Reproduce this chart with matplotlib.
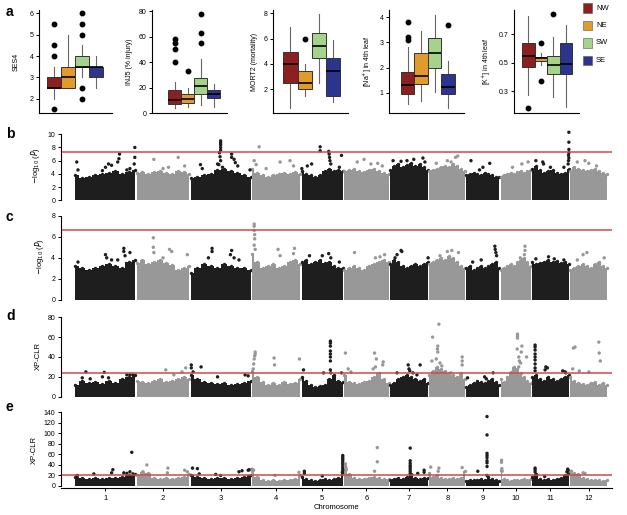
import numpy as np
import matplotlib.pyplot as plt

plt.rcParams['font.family'] = ['Liberation Sans', 'DejaVu Sans']

W, H = 627, 515

# ---------------- panel a: box plots per region ----------------
regions = ['NW', 'NE', 'SW', 'SE']
region_colors = ['#8c1f1f', '#e39a2d', '#a6d38c', '#2b358e']

# each box: [low whisker, q1, median, q3, high whisker]
ses4_box = [[2.0, 2.5, 2.5, 3.0, 3.5], [2.5, 2.5, 3.0, 3.5, 5.0],
            [3.0, 3.5, 3.5, 4.0, 4.5], [2.5, 3.0, 3.5, 3.5, 4.0]]
ses4_out = [[5.5, 4.5, 4.0, 1.5], [], [6.0, 5.5, 5.0, 2.5, 2.0], []]
inj5_box = [[4, 7, 10.4, 18, 24.7], [5.2, 7.8, 10.9, 15.3, 20],
            [6.5, 15.1, 21.6, 27.8, 42.5], [5.2, 12.2, 14.8, 18, 22.7]]
inj5_out = [[40, 50, 55, 58], [33], [55, 62.5, 77.6], []]
mort2_box = [[0.5, 2.47, 3.97, 4.97, 6.94], [1.5, 2.0, 2.47, 3.47, 3.97],
             [2.47, 4.44, 5.44, 6.47, 7.94], [1.0, 1.47, 3.47, 4.44, 5.9]]
mort2_out = [[], [5.97], [], []]
na_box = [[0.55, 0.95, 1.32, 1.81, 2.83], [0.67, 1.33, 1.68, 2.57, 3.47],
          [1.04, 1.97, 2.57, 3.17, 4.1], [0.4, 0.93, 1.21, 1.75, 2.28]]
na_out = [[3.1, 3.2, 3.8], [], [], [3.7]]
k_box = [[0.27, 0.47, 0.55, 0.64, 0.83], [0.48, 0.51, 0.53, 0.54, 0.57],
         [0.255, 0.42, 0.485, 0.55, 0.68], [0.19, 0.42, 0.49, 0.64, 0.766]]
k_out = [[0.18], [0.64, 0.37], [0.84], []]

# ---------------- panels b-e: genome scans ----------------
chrom_names = [str(i) for i in range(1, 13)]
chrom_len = [43, 38, 43, 35, 30, 32, 28, 26, 24, 22, 27, 27]

# top of the dense point mass along each chromosome
b_env = [[3.8, 3.4, 3.6, 3.8, 4.0, 4.2, 4.4, 4.0, 4.3, 4.6],
         [4.2, 4.3, 4.0, 4.3, 4.4, 4.2, 4.0, 4.5, 4.3, 4.0],
         [3.4, 3.6, 3.8, 4.0, 4.6, 4.8, 4.4, 4.2, 3.8, 3.5],
         [4.8, 4.2, 3.8, 3.6, 3.8, 4.0, 4.2, 4.0, 4.3, 4.0],
         [4.5, 4.0, 3.8, 3.6, 3.8, 4.4, 4.8, 4.4, 4.6, 4.5],
         [4.5, 4.6, 4.8, 4.5, 4.3, 4.6, 4.8, 4.4, 4.2, 4.0],
         [4.6, 5.2, 5.5, 5.0, 5.4, 5.6, 5.2, 5.5, 5.0, 4.6],
         [4.4, 4.6, 4.8, 5.0, 5.2, 5.0, 5.5, 5.2, 4.8, 4.5],
         [3.8, 4.0, 4.2, 4.0, 3.8, 4.2, 4.0, 3.8, 3.6, 3.5],
         [3.6, 3.8, 4.0, 4.2, 4.0, 4.3, 4.4, 4.2, 4.5, 4.6],
         [4.8, 5.2, 4.6, 4.2, 4.4, 4.6, 4.2, 4.0, 4.2, 4.8],
         [4.5, 5.0, 4.8, 4.6, 4.4, 4.6, 4.8, 4.4, 4.2, 4.0]]
# (chromosome, relative position, value)
b_pts = [(1, 0.03, 5.8), (1, 0.05, 4.6), (1, 0.45, 4.5), (1, 0.5, 5.0), (1, 0.55, 5.5),
         (1, 0.6, 5.3), (1, 0.73, 7.0), (1, 0.72, 6.3), (1, 0.7, 5.8), (1, 0.98, 8.0),
         (1, 0.98, 6.5), (1, 0.97, 5.5), (1, 0.9, 4.8), (1, 0.85, 4.6),
         (2, 0.33, 6.2), (2, 0.78, 6.5), (2, 0.6, 5.0), (2, 0.5, 4.8), (2, 0.9, 5.2),
         (3, 0.17, 5.4), (3, 0.2, 4.8), (3, 0.45, 5.5), (3, 0.5, 9.0), (3, 0.5, 8.7),
         (3, 0.5, 8.4), (3, 0.5, 8.0), (3, 0.5, 7.6), (3, 0.48, 7.2), (3, 0.49, 6.6),
         (3, 0.5, 6.0), (3, 0.47, 5.4), (3, 0.53, 5.0), (3, 0.68, 7.0), (3, 0.68, 6.5),
         (3, 0.72, 6.2), (3, 0.74, 5.7), (3, 0.78, 5.2), (3, 0.98, 4.6),
         (4, 0.06, 6.0), (4, 0.16, 8.1), (4, 0.1, 5.4), (4, 0.3, 4.8), (4, 0.58, 5.8),
         (4, 0.78, 6.0), (4, 0.85, 5.2),
         (5, 0.02, 4.8), (5, 0.15, 5.2), (5, 0.25, 5.5), (5, 0.45, 8.1), (5, 0.45, 7.5),
         (5, 0.65, 7.4), (5, 0.66, 7.0), (5, 0.67, 6.5), (5, 0.68, 6.0), (5, 0.7, 5.5),
         (5, 0.95, 6.8), (5, 0.9, 5.0),
         (6, 0.3, 5.8), (6, 0.45, 6.2), (6, 0.6, 5.5), (6, 0.75, 5.6), (6, 0.85, 5.2),
         (7, 0.1, 6.0), (7, 0.3, 5.9), (7, 0.45, 6.0), (7, 0.62, 6.2), (7, 0.85, 6.4),
         (7, 0.9, 5.8),
         (8, 0.2, 5.6), (8, 0.5, 6.0), (8, 0.72, 6.5), (8, 0.78, 6.7), (8, 0.6, 5.8),
         (9, 0.15, 6.0), (9, 0.5, 5.0), (9, 0.7, 5.6), (9, 0.4, 4.6),
         (10, 0.4, 5.0), (10, 0.7, 5.5), (10, 0.9, 5.8),
         (11, 0.12, 6.0), (11, 0.3, 5.8), (11, 0.32, 5.5), (11, 0.5, 5.0), (11, 0.85, 5.0),
         (11, 0.98, 10.3), (11, 0.98, 8.8), (11, 0.98, 7.7), (11, 0.98, 7.2),
         (11, 0.97, 6.8), (11, 0.98, 6.4), (11, 0.97, 6.0), (11, 0.96, 5.5),
         (12, 0.2, 5.8), (12, 0.4, 6.0), (12, 0.5, 5.6), (12, 0.7, 5.2)]

c_env = [[3.2, 3.0, 2.8, 3.0, 3.2, 3.4, 3.2, 3.0, 3.6, 3.8],
         [3.5, 3.8, 3.4, 3.6, 3.8, 3.5, 3.3, 2.8, 3.0, 3.2],
         [2.6, 3.0, 3.4, 3.2, 3.0, 3.4, 3.2, 3.0, 3.0, 2.8],
         [4.4, 3.6, 3.0, 3.2, 3.4, 3.0, 3.2, 3.6, 3.8, 3.4],
         [3.6, 3.8, 3.4, 3.6, 3.8, 3.5, 3.6, 3.2, 3.0, 3.0],
         [2.8, 3.0, 3.2, 3.0, 2.8, 3.2, 3.4, 3.6, 3.8, 3.6],
         [3.4, 3.8, 3.6, 3.2, 3.0, 3.2, 3.4, 3.2, 3.4, 3.6],
         [3.4, 3.6, 3.8, 4.0, 3.8, 4.2, 4.0, 3.6, 3.2, 3.0],
         [3.0, 3.2, 2.8, 3.0, 3.2, 3.0, 3.2, 3.4, 3.6, 3.0],
         [2.8, 3.0, 3.2, 3.4, 3.2, 3.6, 3.8, 4.0, 3.6, 3.2],
         [3.6, 3.4, 3.5, 3.6, 3.8, 3.6, 3.7, 3.5, 3.6, 3.4],
         [2.8, 3.0, 3.2, 3.4, 3.2, 3.0, 3.4, 3.6, 3.2, 3.0]]
c_pts = [(1, 0.05, 3.6), (1, 0.5, 4.3), (1, 0.52, 4.0), (1, 0.6, 3.8), (1, 0.8, 4.9),
         (1, 0.8, 4.6), (1, 0.82, 4.2), (1, 0.9, 4.5), (1, 0.7, 3.8),
         (2, 0.32, 5.9), (2, 0.32, 5.0), (2, 0.33, 4.5), (2, 0.62, 4.8), (2, 0.66, 4.6),
         (2, 0.95, 4.3), (2, 0.5, 4.0),
         (3, 0.36, 4.9), (3, 0.36, 4.6), (3, 0.3, 4.0), (3, 0.68, 4.7), (3, 0.66, 4.3),
         (3, 0.72, 4.0), (3, 0.8, 3.8),
         (4, 0.06, 7.2), (4, 0.06, 7.0), (4, 0.06, 6.6), (4, 0.07, 6.2), (4, 0.07, 5.8),
         (4, 0.06, 5.2), (4, 0.08, 4.8), (4, 0.54, 4.8), (4, 0.58, 4.2), (4, 0.87, 4.9),
         (4, 0.85, 4.4),
         (5, 0.2, 4.2), (5, 0.5, 4.2), (5, 0.65, 4.4), (5, 0.7, 4.0), (5, 0.9, 3.6),
         (6, 0.24, 4.5), (6, 0.7, 4.0), (6, 0.8, 4.1), (6, 0.9, 4.3),
         (7, 0.3, 4.7), (7, 0.32, 4.6), (7, 0.2, 4.3), (7, 0.15, 4.0), (7, 0.98, 4.0),
         (8, 0.5, 4.6), (8, 0.62, 4.7), (8, 0.8, 4.5), (8, 0.3, 4.2),
         (9, 0.2, 3.6), (9, 0.45, 3.8), (9, 0.85, 5.1), (9, 0.86, 4.8), (9, 0.88, 4.5),
         (9, 0.9, 4.2),
         (10, 0.8, 5.1), (10, 0.8, 4.7), (10, 0.78, 4.3), (10, 0.65, 4.0),
         (11, 0.12, 3.9), (11, 0.45, 4.1), (11, 0.6, 3.9), (11, 0.85, 3.8),
         (12, 0.35, 4.3), (12, 0.45, 4.5), (12, 0.9, 4.0), (12, 0.2, 3.8)]

d_env = [[12, 16, 14, 15, 13, 16, 14, 18, 20, 22],
         [16, 15, 14, 16, 18, 15, 16, 18, 20, 18],
         [22, 18, 15, 14, 13, 14, 12, 13, 14, 16],
         [26, 20, 15, 12, 14, 12, 15, 13, 14, 18],
         [20, 16, 12, 10, 11, 12, 18, 22, 16, 15],
         [22, 15, 14, 13, 15, 16, 20, 24, 18, 14],
         [12, 14, 18, 20, 22, 20, 18, 16, 18, 14],
         [22, 26, 30, 28, 26, 24, 22, 20, 24, 18],
         [10, 12, 14, 16, 15, 14, 16, 18, 15, 12],
         [18, 15, 20, 25, 30, 28, 24, 20, 16, 14],
         [20, 22, 18, 16, 20, 18, 16, 18, 20, 22],
         [20, 16, 14, 13, 12, 14, 15, 12, 14, 12]]
d_pts = [(1, 0.12, 19), (1, 0.18, 25), (1, 0.25, 18), (1, 0.45, 20), (1, 0.48, 24.5),
         (1, 0.55, 19), (1, 0.85, 22), (1, 0.9, 22), (1, 0.95, 22),
         (2, 0.55, 27), (2, 0.92, 29), (2, 0.85, 25), (2, 0.7, 22),
         (3, 0.02, 32), (3, 0.02, 29), (3, 0.18, 30), (3, 0.05, 25), (3, 0.45, 20),
         (3, 0.9, 22), (3, 0.95, 21),
         (4, 0.08, 45), (4, 0.08, 43), (4, 0.07, 41), (4, 0.06, 38), (4, 0.05, 33),
         (4, 0.04, 28), (4, 0.46, 39), (4, 0.47, 32), (4, 0.97, 38),
         (5, 0.06, 27), (5, 0.69, 56), (5, 0.69, 54), (5, 0.69, 51), (5, 0.69, 46),
         (5, 0.69, 43), (5, 0.69, 40), (5, 0.69, 36), (5, 0.69, 27), (5, 0.7, 24),
         (5, 0.53, 24), (5, 0.95, 24),
         (6, 0.04, 44), (6, 0.1, 28), (6, 0.16, 25), (6, 0.68, 44), (6, 0.72, 38),
         (6, 0.87, 35), (6, 0.86, 32), (6, 0.7, 30), (6, 0.65, 28),
         (7, 0.2, 24), (7, 0.48, 32), (7, 0.5, 28), (7, 0.52, 26), (7, 0.78, 32),
         (7, 0.7, 22), (7, 0.6, 24),
         (8, 0.1, 60), (8, 0.27, 73), (8, 0.24, 51), (8, 0.23, 48), (8, 0.24, 45),
         (8, 0.2, 38), (8, 0.08, 36), (8, 0.3, 34), (8, 0.35, 31), (8, 0.9, 40),
         (8, 0.9, 36), (8, 0.9, 32), (8, 0.6, 24),
         (9, 0.05, 19), (9, 0.55, 20), (9, 0.8, 24), (9, 0.6, 18),
         (10, 0.56, 63), (10, 0.56, 61), (10, 0.56, 59), (10, 0.55, 48), (10, 0.7, 51),
         (10, 0.68, 45), (10, 0.6, 40), (10, 0.62, 36), (10, 0.66, 34), (10, 0.6, 30),
         (10, 0.85, 40),
         (11, 0.1, 52), (11, 0.1, 50), (11, 0.1, 47), (11, 0.1, 43), (11, 0.1, 40),
         (11, 0.1, 37), (11, 0.1, 33), (11, 0.1, 29), (11, 0.1, 26), (11, 0.38, 30),
         (11, 0.42, 29), (11, 0.36, 27), (11, 0.82, 26), (11, 0.88, 25), (11, 0.9, 24),
         (12, 0.1, 49), (12, 0.14, 50), (12, 0.08, 28), (12, 0.25, 26), (12, 0.5, 25),
         (12, 0.76, 55), (12, 0.77, 44), (12, 0.8, 36)]

e_env = [[18, 15, 14, 16, 14, 15, 16, 18, 20, 22],
         [20, 26, 25, 16, 14, 15, 14, 16, 18, 22],
         [20, 18, 15, 14, 16, 15, 14, 16, 18, 20],
         [28, 18, 12, 10, 12, 10, 11, 12, 14, 20],
         [18, 14, 12, 10, 12, 13, 12, 14, 15, 25],
         [30, 22, 15, 13, 14, 16, 18, 16, 14, 14],
         [12, 14, 15, 14, 18, 22, 16, 14, 15, 16],
         [25, 18, 20, 16, 14, 13, 15, 14, 16, 28],
         [10, 12, 11, 12, 14, 12, 18, 14, 12, 10],
         [30, 14, 12, 10, 12, 11, 12, 13, 12, 14],
         [18, 22, 14, 12, 13, 12, 14, 16, 20, 24],
         [28, 24, 22, 15, 13, 12, 11, 12, 10, 12]]
e_pts = [(1, 0.04, 20), (1, 0.31, 23), (1, 0.62, 31), (1, 0.6, 25), (1, 0.8, 25),
         (1, 0.85, 24), (1, 0.9, 27), (1, 0.93, 64), (1, 0.95, 23),
         (2, 0.2, 40), (2, 0.13, 27), (2, 0.59, 34), (2, 0.58, 25), (2, 0.9, 30),
         (2, 0.95, 27),
         (3, 0.04, 34), (3, 0.12, 33), (3, 0.15, 23), (3, 0.42, 22), (3, 0.5, 20),
         (3, 0.8, 27), (3, 0.85, 29), (3, 0.95, 30), (3, 0.97, 31),
         (4, 0.02, 32), (4, 0.05, 30), (4, 0.48, 20), (4, 0.96, 26),
         (5, 0.08, 28), (5, 0.08, 24), (5, 0.5, 19), (5, 0.98, 58), (5, 0.98, 55),
         (5, 0.98, 52), (5, 0.98, 49), (5, 0.98, 45), (5, 0.98, 42), (5, 0.98, 38),
         (5, 0.98, 34), (5, 0.98, 30), (5, 0.97, 26),
         (6, 0.04, 42), (6, 0.04, 38), (6, 0.05, 35), (6, 0.06, 31), (6, 0.74, 73),
         (6, 0.74, 46), (6, 0.68, 28),
         (7, 0.53, 72), (7, 0.53, 48), (7, 0.53, 43), (7, 0.53, 39), (7, 0.53, 36),
         (7, 0.53, 32), (7, 0.53, 28), (7, 0.53, 24), (7, 0.72, 24), (7, 0.88, 30),
         (7, 0.88, 26),
         (8, 0.05, 36), (8, 0.27, 34), (8, 0.9, 35), (8, 0.25, 28),
         (9, 0.35, 28), (9, 0.62, 132), (9, 0.62, 97), (9, 0.62, 62), (9, 0.62, 58),
         (9, 0.62, 54), (9, 0.62, 48), (9, 0.62, 44), (9, 0.62, 37), (9, 0.62, 20),
         (10, 0.05, 49), (10, 0.05, 45), (10, 0.06, 33), (10, 0.07, 28),
         (11, 0.1, 34), (11, 0.1, 31), (11, 0.1, 27), (11, 0.12, 22), (11, 0.35, 18),
         (11, 0.95, 32), (11, 0.96, 30), (11, 0.93, 27),
         (12, 0.05, 28), (12, 0.35, 25), (12, 0.4, 24)]

thresholds = [7.3, 6.6, 23.6, 20]

BLACK = '#1e1e1e'
GRAY = '#989898'
RED = '#cf4a4a'


def rect(left, top, right, bottom):
    return [left / W, 1 - bottom / H, (right - left) / W, (bottom - top) / H]


def style_axis(ax, fs=5):
    for s in ['top', 'right']:
        ax.spines[s].set_visible(False)
    for s in ['left', 'bottom']:
        ax.spines[s].set_linewidth(0.8)
    ax.tick_params(axis='y', length=2.5, width=0.7, labelsize=fs, pad=1.5)


def box_panel(ax, boxes, outs, ylim, xlim, yticks, label, pad=4):
    stats = []
    for b, o in zip(boxes, outs):
        stats.append(dict(whislo=b[0], q1=b[1], med=b[2], q3=b[3], whishi=b[4], fliers=o))
    bp = ax.bxp(stats, positions=[1, 2, 3, 4], widths=1.0, patch_artist=True,
                showcaps=False,
                boxprops=dict(edgecolor='#333333', linewidth=0.7),
                medianprops=dict(color='black', linewidth=1.2),
                whiskerprops=dict(color='#666666', linewidth=0.8),
                flierprops=dict(marker='o', markerfacecolor='black', markeredgecolor='black',
                                markersize=3.2))
    for patch, col in zip(bp['boxes'], region_colors):
        patch.set_facecolor(col)
    for w in bp['whiskers']:
        w.set_zorder(0.5)
    ax.set_ylim(*ylim)
    ax.set_xlim(*xlim)
    ax.set_yticks(yticks)
    ax.set_xticks([])
    style_axis(ax)
    ax.set_ylabel(label, fontsize=5, labelpad=pad)


def manhattan(ax, env, pts, thr, ylim, yticks, ylabel):
    offsets = np.concatenate([[0], np.cumsum(chrom_len)[:-1]])
    for i in range(12):
        col = BLACK if i % 2 == 0 else GRAY
        h = np.array(env[i], dtype=float)
        xs = offsets[i] + np.linspace(0.4, chrom_len[i] - 0.4, len(h))
        ax.fill_between(xs, 0, h, step='mid', color=col, lw=0)
        ax.scatter(xs, h, s=6, color=col, lw=0)
    px = [offsets[c - 1] + r * chrom_len[c - 1] for c, r, v in pts]
    py = [v for c, r, v in pts]
    pc = [BLACK if (c - 1) % 2 == 0 else GRAY for c, r, v in pts]
    ax.scatter(px, py, s=6, c=pc, lw=0, clip_on=False)
    ax.axhline(thr, color=RED, lw=1.1)
    ax.set_xlim(-10.0, 377.8)
    ax.set_ylim(*ylim)
    ax.set_yticks(yticks)
    style_axis(ax)
    ax.spines['left'].set_bounds(yticks[0], yticks[-1])
    ax.set_ylabel(ylabel, fontsize=5.5, labelpad=4)
    return offsets


fig = plt.figure(figsize=(W / 100, H / 100), dpi=100)

# panel a
ax1 = fig.add_axes(rect(39.3, 10, 112, 113.3))
box_panel(ax1, ses4_box, ses4_out, (1.31, 6.16), (-0.08, 5.17), [2, 3, 4, 5, 6], 'SES4', pad=7)
ax2 = fig.add_axes(rect(152, 10, 227, 113.3))
box_panel(ax2, inj5_box, inj5_out, (0, 80.8), (-0.76, 5.04), [0, 20, 40, 60, 80], 'INJ5 (% injury)')
ax3 = fig.add_axes(rect(273, 10, 348, 113.3))
box_panel(ax3, mort2_box, mort2_out, (0.1, 8.26), (-0.23, 5.06), [2, 4, 6, 8], 'MORT2 (mortality)')
ax4 = fig.add_axes(rect(389, 10, 464, 113.3))
box_panel(ax4, na_box, na_out, (0.18, 4.29), (-0.39, 5.17), [1, 2, 3, 4], '[Na$^{+}$] in 4th leaf')
ax5 = fig.add_axes(rect(514, 10, 579, 113.3))
box_panel(ax5, k_box, k_out, (0.143, 0.871), (-0.14, 5.06), [0.3, 0.5, 0.7], '[K$^{+}$] in 4th leaf')

# legend
for i, (name, col) in enumerate(zip(regions, region_colors)):
    y = 8 + i * 17.5
    fig.patches.append(plt.Rectangle((583 / W, 1 - (y + 4.5) / H), 9 / W, 9 / H,
                                     transform=fig.transFigure, facecolor=col,
                                     edgecolor='#555555', linewidth=0.4))
    fig.text(596 / W, 1 - y / H, name, fontsize=5.5, va='center', ha='left')

# panels b-e
axb = fig.add_axes(rect(60.7, 130.3, 612, 200.3))
manhattan(axb, b_env, b_pts, thresholds[0], (0, 10.6), [0, 2, 4, 6, 8, 10],
          r'$-$log$_{10}$ ($P$)')
axb.spines['bottom'].set_visible(False)
axb.set_xticks([])

axc = fig.add_axes(rect(60.7, 212.5, 612, 300))
manhattan(axc, c_env, c_pts, thresholds[1], (0, 8.3), [0, 2, 4, 6, 8],
          r'$-$log$_{10}$ ($P$)')
axc.spines['bottom'].set_visible(False)
axc.set_xticks([])

axd = fig.add_axes(rect(60.7, 315.3, 612, 396.7))
manhattan(axd, d_env, d_pts, thresholds[2], (0, 82), [0, 20, 40, 60, 80], 'XP-CLR')
axd.spines['bottom'].set_visible(False)
axd.set_xticks([])

axe = fig.add_axes(rect(60.7, 411.3, 612, 488.3))
offs = manhattan(axe, e_env, e_pts, thresholds[3], (-4.4, 142),
                 [0, 20, 40, 60, 80, 100, 120, 140], 'XP-CLR')
centers = offs + np.array(chrom_len) / 2
axe.set_xticks(centers)
axe.set_xticklabels(chrom_names)
axe.tick_params(axis='x', length=2.5, width=0.7, labelsize=5.5, pad=2)
axe.set_xlabel('Chromosome', fontsize=5.5, labelpad=2)

# panel letters
for letter, y in zip('abcde', [12, 134, 217, 316, 407]):
    fig.text(6 / W, 1 - y / H, letter, fontsize=10, fontweight='bold', va='center', ha='left')

fig.savefig('out.png', dpi=100)
